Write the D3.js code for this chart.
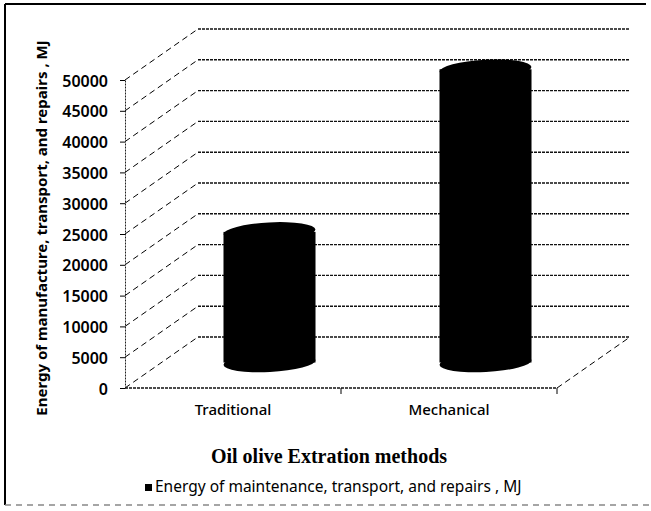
<!DOCTYPE html>
<html lang="en">
<head>
	<meta charset="UTF-8">
	<title>Oil olive extraction energy</title>
	<script src="https://cdn.jsdelivr.net/npm/d3@7/dist/d3.min.js"></script>
	<style>
		body { margin: 0; background: white; }
		svg text { fill: black; }
	</style>
</head>
<body>
	<div id="vis"></div>

	<script>
		var width = 651;
		var height = 511;

		// data
		var categories = ["Traditional", "Mechanical"];
		var values = [21200, 47600];
		var yTicks = [0, 5000, 10000, 15000, 20000, 25000, 30000, 35000, 40000, 45000, 50000];
		var seriesName = "Energy of maintenance, transport, and repairs , MJ";
		var yTitle = "Energy of manufacture, transport, and repairs , MJ";
		var xTitle = "Oil olive Extration methods";

		var svg = d3.select("#vis").append("svg")
				.attr("width", width)
				.attr("height", height);

		// front plane scales, the walls sit behind them by a fixed offset
		var y = d3.scaleLinear().domain([0, 50000]).range([388, 80]);
		var x = d3.scaleBand().domain(categories).range([125, 557]);
		var dx = 73, dy = -51;

		// frame around the picture
		svg.append("line")
				.attr("x1", 5).attr("y1", 4).attr("x2", 646).attr("y2", 4)
				.attr("stroke", "black").attr("stroke-width", 2);
		svg.append("line")
				.attr("x1", 5).attr("y1", 4).attr("x2", 5).attr("y2", 505)
				.attr("stroke", "black").attr("stroke-width", 2);
		svg.append("line")
				.attr("x1", 5).attr("y1", 505).attr("x2", 651).attr("y2", 505)
				.attr("stroke", "#888").attr("stroke-width", 1.5)
				.attr("stroke-dasharray", "6,5");

		// side wall (dashed diagonals) and back wall (dotted horizontals)
		var grid = svg.append("g");
		grid.selectAll(".side").data(yTicks).enter().append("line")
				.attr("x1", 125).attr("y1", function(d) { return y(d); })
				.attr("x2", 125 + dx).attr("y2", function(d) { return y(d) + dy; })
				.attr("stroke", "black").attr("stroke-width", 1)
				.attr("stroke-dasharray", "6,4");
		grid.selectAll(".back").data(yTicks).enter().append("line")
				.attr("x1", 125 + dx).attr("y1", function(d) { return y(d) + dy; })
				.attr("x2", 557 + dx).attr("y2", function(d) { return y(d) + dy; })
				.attr("stroke", "#111").attr("stroke-width", 1.4)
				.attr("stroke-dasharray", "3,1");

		// floor: right edge and front edge
		grid.append("line")
				.attr("x1", 557).attr("y1", y(0)).attr("x2", 557 + dx).attr("y2", y(0) + dy)
				.attr("stroke", "black").attr("stroke-dasharray", "6,4");
		grid.append("line")
				.attr("x1", 125).attr("y1", y(0)).attr("x2", 557).attr("y2", y(0))
				.attr("stroke", "#111").attr("stroke-width", 1.4)
				.attr("stroke-dasharray", "3,1");

		// category boundary ticks on the front edge
		grid.selectAll(".xtick").data(categories).enter().append("line")
				.attr("x1", function(d) { return x(d) + x.bandwidth(); })
				.attr("x2", function(d) { return x(d) + x.bandwidth(); })
				.attr("y1", y(0)).attr("y2", y(0) + 6)
				.attr("stroke", "black");

		// y axis
		var yAxis = svg.append("g")
				.attr("transform", "translate(125,0)")
				.call(d3.axisLeft(y).tickValues(yTicks).tickFormat(d3.format("d"))
						.tickSize(5).tickSizeOuter(0).tickPadding(12));
		yAxis.select(".domain").attr("stroke", "#222").attr("stroke-dasharray", "2,1");
		yAxis.selectAll("text")
				.attr("font-family", "'Noto Sans', sans-serif")
				.attr("font-size", 16)
				.attr("font-weight", 600)
				.attr("dy", "0.38em");

		// x axis labels only
		var xAxis = svg.append("g")
				.attr("transform", "translate(0," + y(0) + ")")
				.call(d3.axisBottom(x).tickSize(0).tickPadding(16));
		xAxis.select(".domain").remove();
		xAxis.selectAll("text")
				.attr("font-family", "'Noto Sans', sans-serif")
				.attr("font-size", 15)
				.attr("font-weight", 500);

		// cylinders, centred half way into the depth
		var rx = x.bandwidth() * 0.213;
		var ry = 9.5;
		var bars = svg.selectAll(".bar").data(values).enter().append("g");

		bars.each(function(v, i) {
			var g = d3.select(this);
			var cx = x(categories[i]) + x.bandwidth() / 2 + dx / 2;
			var yb = y(0) + dy / 2;
			var yt = y(v) + dy / 2;

			g.append("rect")
					.attr("x", cx - rx).attr("y", yt)
					.attr("width", rx * 2).attr("height", yb - yt)
					.attr("fill", "black");
			g.append("ellipse")
					.attr("cx", cx).attr("cy", yb).attr("rx", rx).attr("ry", ry)
					.attr("transform", "rotate(-3," + cx + "," + yb + ")")
					.attr("fill", "black");
			g.append("ellipse")
					.attr("cx", cx).attr("cy", yt).attr("rx", rx).attr("ry", ry)
					.attr("transform", "rotate(-3," + cx + "," + yt + ")")
					.attr("fill", "black");
		});

		// axis titles
		svg.append("text")
				.attr("transform", "translate(47,228) rotate(-90)")
				.attr("text-anchor", "middle")
				.attr("font-family", "'Noto Sans', sans-serif")
				.attr("font-weight", "bold")
				.attr("font-size", 15)
				.text(yTitle);

		svg.append("text")
				.attr("x", 329).attr("y", 463)
				.attr("text-anchor", "middle")
				.attr("font-family", "'Liberation Serif', serif")
				.attr("font-weight", "bold")
				.attr("font-size", 20)
				.text(xTitle);

		// legend
		svg.append("rect")
				.attr("x", 145).attr("y", 484)
				.attr("width", 7).attr("height", 7)
				.attr("fill", "black");
		svg.append("text")
				.attr("x", 155).attr("y", 492)
				.attr("font-family", "'Noto Sans', sans-serif")
				.attr("font-size", 15.5)
				.text(seriesName);
	</script>
</body>
</html>
